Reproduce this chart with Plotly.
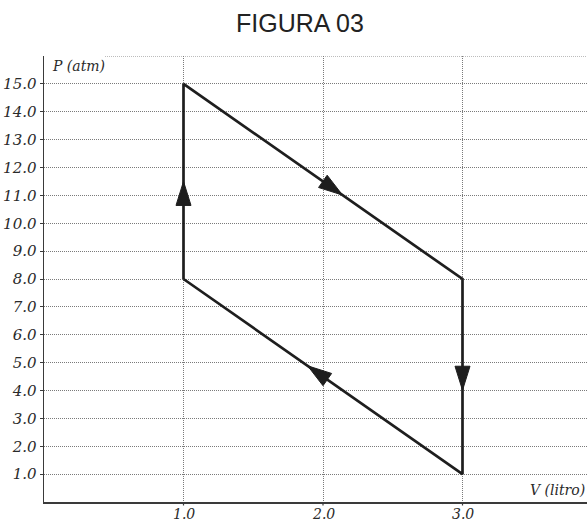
import plotly.graph_objects as go
import numpy as np

# ---- data ----
cycle_V = [1.0, 1.0, 3.0, 3.0, 1.0]      # litro
cycle_P = [8.0, 15.0, 8.0, 1.0, 8.0]     # atm
arrow_tip_frac = [0.50, 0.57, 0.57, 0.555]  # where along each segment the arrow tip sits

x_tickvals = [1, 2, 3]
x_ticktext = ["1.0", "2.0", "3.0"]
y_tickvals = list(range(1, 16))
y_ticktext = [f"{v:.1f}" for v in y_tickvals]

title_text = "FIGURA 03"
x_label = "V (litro)"
y_label = "P (atm)"

# ---- layout geometry ----
W, H = 587, 523
ml, mr, mt, mb = 44, 0, 56, 21
pw, ph = W - ml - mr, H - mt - mb
x_range = [0, pw / 139.5]
y_range = [0, 16]
sx = pw / (x_range[1] - x_range[0])
sy = ph / (y_range[1] - y_range[0])

ink = "#1e1e1e"
serif = "DejaVu Serif"
gridc = "#7a7a7a"
grid_dash = "1px,1px"
txtc = "#2a2a2a"

fig = go.Figure()

fig.add_trace(go.Scatter(
    x=cycle_V, y=cycle_P, mode="lines",
    line=dict(color=ink, width=2.7),
    hoverinfo="skip", showlegend=False, cliponaxis=False,
))

# arrowheads (computed in pixel space from the data segments)
L, Wd = 24.0, 15.0
for i, f in enumerate(arrow_tip_frac):
    x0, y0 = cycle_V[i], cycle_P[i]
    x1, y1 = cycle_V[i + 1], cycle_P[i + 1]
    tx, ty = x0 + f * (x1 - x0), y0 + f * (y1 - y0)
    dx, dy = (x1 - x0) * sx, (y1 - y0) * sy
    n = np.hypot(dx, dy)
    ux, uy = dx / n, dy / n
    nx, ny = -uy, ux
    bx, by = -L * ux, -L * uy
    c1 = (bx + Wd / 2 * nx, by + Wd / 2 * ny)
    c2 = (bx - Wd / 2 * nx, by - Wd / 2 * ny)
    xs = [tx, tx + c1[0] / sx, tx + c2[0] / sx, tx]
    ys = [ty, ty + c1[1] / sy, ty + c2[1] / sy, ty]
    fig.add_trace(go.Scatter(
        x=xs, y=ys, mode="lines", fill="toself",
        fillcolor=ink, line=dict(color=ink, width=1),
        hoverinfo="skip", showlegend=False,
    ))

# top gridline (y = 16), starting right of the axis label
fig.add_shape(type="line", xref="x", yref="y",
              x0=(105 - ml) / sx, x1=x_range[1], y0=16, y1=16,
              line=dict(color=gridc, width=1, dash=grid_dash), layer="below")

# x tick marks and labels, placed close under the axis
for v, t in zip(x_tickvals, x_ticktext):
    fig.add_shape(type="line", xref="x", yref="paper",
                  x0=v, x1=v, y0=0, y1=-3.5 / ph,
                  line=dict(color="#3a3a3a", width=1.2))
    fig.add_annotation(text=t, xref="x", yref="paper", x=v, y=-(513.5 - (H - mb)) / ph,
                       xanchor="center", yanchor="middle", showarrow=False,
                       font=dict(family=serif, size=14, color=txtc, style="italic"))

tickfont = dict(family=serif, size=15, color=txtc, style="italic")

fig.update_xaxes(
    range=x_range, tickvals=x_tickvals, showticklabels=False,
    showgrid=True, gridcolor=gridc, gridwidth=1, griddash=grid_dash,
    showline=True, linecolor="#3a3a3a", linewidth=1.5,
    ticks="", zeroline=False, automargin=False,
)
fig.update_yaxes(
    range=y_range, tickvals=y_tickvals, ticktext=y_ticktext,
    showgrid=True, gridcolor=gridc, gridwidth=1, griddash=grid_dash,
    showline=True, linecolor="#3a3a3a", linewidth=1.5,
    ticks="outside", ticklen=3, tickcolor="#3a3a3a",
    zeroline=False, tickfont=tickfont, automargin=False,
)

fig.add_annotation(text=y_label, xref="paper", yref="paper",
                   x=(50 - ml) / pw, y=1 - (66 - mt) / ph,
                   xanchor="left", yanchor="middle", showarrow=False,
                   font=dict(family=serif, size=14, color=txtc, style="italic"))
fig.add_annotation(text=x_label, xref="paper", yref="paper",
                   x=1.0, y=(H - mb - 490) / ph,
                   xanchor="right", yanchor="middle", showarrow=False,
                   font=dict(family=serif, size=14, color=txtc, style="italic"))

fig.update_layout(
    width=W, height=H,
    margin=dict(l=ml, r=mr, t=mt, b=mb, autoexpand=False),
    paper_bgcolor="white", plot_bgcolor="white",
    title=dict(text=title_text, x=300 / W, xref="container", xanchor="center",
               y=1 - 23 / H, yref="container", yanchor="middle",
               font=dict(family="Liberation Sans", size=25, color="#222222")),
    hovermode=False, showlegend=False,
)

fig.write_html(
    "out.html",
    config={"displayModeBar": False, "staticPlot": True},
    post_script="document.body.style.margin='0px';document.body.style.overflow='hidden';",
)
